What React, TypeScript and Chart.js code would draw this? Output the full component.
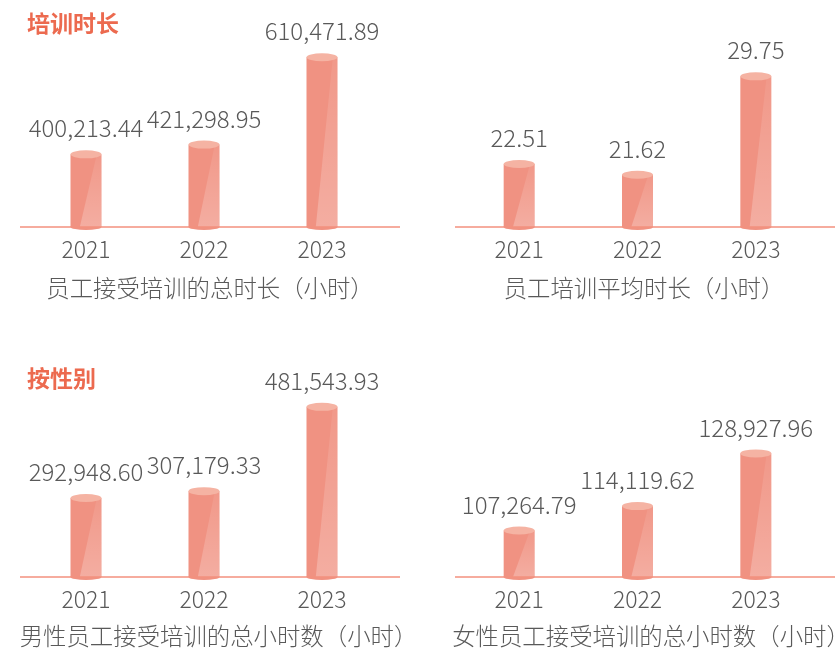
import React, { useEffect, useRef } from 'react';
import { Chart, registerables } from 'chart.js';

Chart.register(...registerables);

const years = ['2021', '2022', '2023'];
const totalHours = [400213.44, 421298.95, 610471.89];
const avgHours = [22.51, 21.62, 29.75];
const maleHours = [292948.6, 307179.33, 481543.93];
const femaleHours = [107264.79, 114119.62, 128927.96];

const FONT = '"Noto Sans CJK SC", "Noto Sans", sans-serif';
const BODY = '#f09282';
const TOPC = '#f5b3a3';
const LINE = '#f3907e';
const TEXT = '#595959';
const TITLE = '#ec6a4f';

const fmt = (v: number) =>
  v.toLocaleString('en-US', { minimumFractionDigits: 2, maximumFractionDigits: 2 });

const cylinderPlugin = {
  id: 'cylinder',
  afterDatasetsDraw(chart: any, _args: any, opts: any) {
    const ctx = chart.ctx;
    const meta = chart.getDatasetMeta(0);
    const ds = chart.data.datasets[0];
    const area = chart.chartArea;
    const yb = area.bottom;
    ctx.save();
    meta.data.forEach((bar: any, i: number) => {
      const props = bar.getProps(['x', 'y', 'base', 'width'], true);
      const { x, y, width } = props;
      const base = Math.min(props.base, yb);
      const l = x - width / 2;
      const r = x + width / 2;
      ctx.fillStyle = BODY;
      ctx.beginPath();
      ctx.ellipse(x, base, width / 2, 3, 0, 0, Math.PI * 2);
      ctx.fill();
      ctx.fillRect(l, y, width, base - y);
      const g = ctx.createLinearGradient(0, y, 0, base);
      g.addColorStop(0, 'rgba(255,255,255,0.06)');
      g.addColorStop(1, 'rgba(255,255,255,0.25)');
      ctx.fillStyle = g;
      ctx.beginPath();
      ctx.moveTo(l + width * 0.85, y);
      ctx.lineTo(r, y);
      ctx.lineTo(r, base);
      ctx.lineTo(l + width * 0.3, base);
      ctx.closePath();
      ctx.fill();
      ctx.fillStyle = TOPC;
      ctx.beginPath();
      ctx.ellipse(x, y, width / 2, 4, 0, 0, Math.PI * 2);
      ctx.fill();
      ctx.fillStyle = TEXT;
      ctx.font = `300 24px ${FONT}`;
      ctx.textAlign = 'center';
      ctx.textBaseline = 'middle';
      ctx.fillText(fmt(ds.data[i]), x, y - 26);
    });
    ctx.strokeStyle = LINE;
    ctx.lineWidth = 1.5;
    ctx.beginPath();
    ctx.moveTo(opts.from, yb);
    ctx.lineTo(opts.to, yb);
    ctx.stroke();
    // subtitle under the axis
    ctx.fillStyle = TEXT;
    ctx.font = `300 23.4px ${FONT}`;
    ctx.textAlign = 'center';
    ctx.textBaseline = 'middle';
    ctx.fillText(opts.subtitle, (area.left + area.right) / 2 + opts.subDx, yb + opts.subDy);
    ctx.restore();
  },
};

type Props = {
  values: number[];
  subtitle: string;
  subDx: number;
  subDy: number;
  yMin: number;
  yMax: number;
  padLeft: number;
  padRight: number;
  lineFrom: number;
  lineTo: number;
  left: number;
  top: number;
  width: number;
};

function CylChart(p: Props) {
  const ref = useRef<HTMLCanvasElement | null>(null);
  useEffect(() => {
    if (!ref.current) return;
    const chart = new Chart(ref.current, {
      type: 'bar',
      data: {
        labels: years,
        datasets: [
          {
            data: p.values,
            base: p.yMin,
            backgroundColor: 'rgba(0,0,0,0)',
            borderWidth: 0,
            barThickness: 31,
          } as any,
        ],
      },
      options: {
        responsive: false,
        animation: false,
        layout: { padding: { left: p.padLeft, right: p.padRight, top: 20, bottom: 34.4 } },
        plugins: {
          legend: { display: false },
          tooltip: { enabled: false },
          cylinder: { from: p.lineFrom, to: p.lineTo, subtitle: p.subtitle, subDx: p.subDx, subDy: p.subDy },
        } as any,
        scales: {
          x: {
            grid: { display: false, drawTicks: false },
            border: { display: false },
            ticks: { color: TEXT, font: { family: FONT, size: 23, weight: 300 as any }, padding: 8 },
          },
          y: { display: false, min: p.yMin, max: p.yMax },
        },
      },
      plugins: [cylinderPlugin],
    });
    return () => chart.destroy();
  }, []);
  return (
    <canvas
      ref={ref}
      width={p.width}
      height={305}
      style={{ position: 'absolute', left: p.left, top: p.top, width: p.width, height: 305 }}
    />
  );
}

const titleStyle = (top: number): React.CSSProperties => ({
  position: 'absolute',
  left: 27,
  top,
  fontFamily: FONT,
  fontWeight: 700,
  fontSize: 23,
  lineHeight: '23px',
  color: TITLE,
  whiteSpace: 'nowrap',
});

export default function App() {
  return (
    <div style={{ position: 'absolute', left: 0, top: 0, width: 839, height: 650, background: '#fff', overflow: 'hidden' }}>
      <CylChart
        values={totalHours}
        subtitle="员工接受培训的总时长（小时）"
        subDx={6}
        subDy={61}
        yMin={243000}
        yMax={691000}
        padLeft={27}
        padRight={39}
        lineFrom={20}
        lineTo={400}
        left={0}
        top={0}
        width={420}
      />
      <CylChart
        values={avgHours}
        subtitle="员工培训平均时长（小时）"
        subDx={6.5}
        subDy={61}
        yMin={17.31}
        yMax={34.4}
        padLeft={40}
        padRight={24}
        lineFrom={35}
        lineTo={415}
        left={420}
        top={0}
        width={419}
      />
      <CylChart
        values={maleHours}
        subtitle="男性员工接受培训的总小时数（小时）"
        subDx={14.5}
        subDy={59}
        yMin={129500}
        yMax={557800}
        padLeft={27}
        padRight={39}
        lineFrom={20}
        lineTo={400}
        left={0}
        top={350}
        width={420}
      />
      <CylChart
        values={femaleHours}
        subtitle="女性员工接受培训的总小时数（小时）"
        subDx={13.5}
        subDy={59}
        yMin={94200}
        yMax={152350}
        padLeft={40}
        padRight={24}
        lineFrom={35}
        lineTo={415}
        left={420}
        top={350}
        width={419}
      />
      <div style={titleStyle(11)}>培训时长</div>
      <div style={titleStyle(366)}>按性别</div>
    </div>
  );
}
